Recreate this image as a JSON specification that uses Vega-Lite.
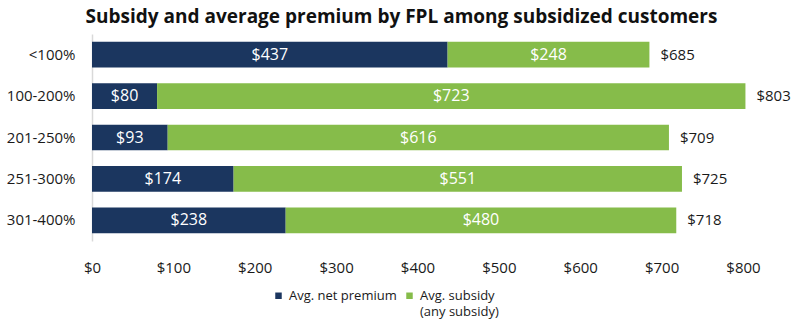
{
  "$schema": "https://vega.github.io/schema/vega-lite/v6.json",
  "autosize": "none",
  "width": 651,
  "height": 207,
  "padding": {"left": 92, "top": 34, "right": 57, "bottom": 80},
  "background": "white",
  "config": {
    "font": "Open Sans",
    "view": {"stroke": null},
    "axis": {"labelFont": "Open Sans", "labelColor": "#1a1a1a", "labelFontSize": 15, "ticks": false, "grid": false, "title": null}
  },
  "title": {
    "text": "Subsidy and average premium by FPL among subsidized customers",
    "font": "Open Sans",
    "fontSize": 19,
    "fontWeight": "bold",
    "color": "#111111",
    "anchor": "middle",
    "dx": -16,
    "offset": 7
  },
  "data": {
    "values": [
      {"fpl": "<100%", "series": "Avg. net premium", "value": 437},
      {"fpl": "<100%", "series": "Avg. subsidy (any subsidy)", "value": 248},
      {"fpl": "100-200%", "series": "Avg. net premium", "value": 80},
      {"fpl": "100-200%", "series": "Avg. subsidy (any subsidy)", "value": 723},
      {"fpl": "201-250%", "series": "Avg. net premium", "value": 93},
      {"fpl": "201-250%", "series": "Avg. subsidy (any subsidy)", "value": 616},
      {"fpl": "251-300%", "series": "Avg. net premium", "value": 174},
      {"fpl": "251-300%", "series": "Avg. subsidy (any subsidy)", "value": 551},
      {"fpl": "301-400%", "series": "Avg. net premium", "value": 238},
      {"fpl": "301-400%", "series": "Avg. subsidy (any subsidy)", "value": 480}
    ]
  },
  "transform": [
    {"stack": "value", "groupby": ["fpl"], "sort": [{"field": "series"}], "as": ["v0", "v1"]},
    {"calculate": "(datum.v0 + datum.v1) / 2", "as": "vmid"}
  ],
  "encoding": {
    "y": {
      "field": "fpl", "type": "nominal",
      "sort": ["<100%", "100-200%", "201-250%", "251-300%", "301-400%"],
      "scale": {"paddingInner": 0.38, "paddingOuter": 0.19},
      "axis": {"domain": true, "domainColor": "#d9d9d9", "domainWidth": 1.5, "labelPadding": 17}
    }
  },
  "layer": [
    {
      "mark": {"type": "bar"},
      "encoding": {
        "x": {
          "field": "v0", "type": "quantitative",
          "scale": {"domain": [0, 800], "nice": false},
          "axis": {"domain": false, "labelPadding": 19, "values": [0, 100, 200, 300, 400, 500, 600, 700, 800], "labelExpr": "'$' + datum.value", "labelFlush": false}
        },
        "x2": {"field": "v1"},
        "color": {
          "field": "series", "type": "nominal",
          "scale": {"domain": ["Avg. net premium", "Avg. subsidy (any subsidy)"], "range": ["#1b365f", "#86bc4a"]},
          "legend": {
            "title": null,
            "orient": "none",
            "direction": "horizontal",
            "legendX": 180,
            "legendY": 255,
            "symbolType": "square",
            "symbolSize": 42,
            "symbolStrokeWidth": 0,
            "labelFont": "Open Sans",
            "labelFontSize": 13,
            "labelColor": "#1a1a1a",
            "labelBaseline": "middle",
            "labelOffset": 4,
            "columnPadding": 6,
            "labelExpr": "datum.label == 'Avg. subsidy (any subsidy)' ? ['Avg. subsidy', '(any subsidy)'] : [datum.label, ' ']",
            "encode": {"labels": {"update": {"lineHeight": {"value": 16}}}}
          }
        }
      }
    },
    {
      "mark": {"type": "text", "color": "white", "fontSize": 16, "align": "center", "baseline": "middle"},
      "encoding": {
        "x": {"field": "vmid", "type": "quantitative"},
        "text": {"field": "value", "type": "quantitative", "format": "$d"}
      }
    },
    {
      "mark": {"type": "text", "color": "#1a1a1a", "fontSize": 15, "align": "left", "baseline": "middle", "dx": 11},
      "encoding": {
        "x": {"aggregate": "max", "field": "v1", "type": "quantitative"},
        "text": {"aggregate": "max", "field": "v1", "type": "quantitative", "format": "$d"}
      }
    }
  ]
}
